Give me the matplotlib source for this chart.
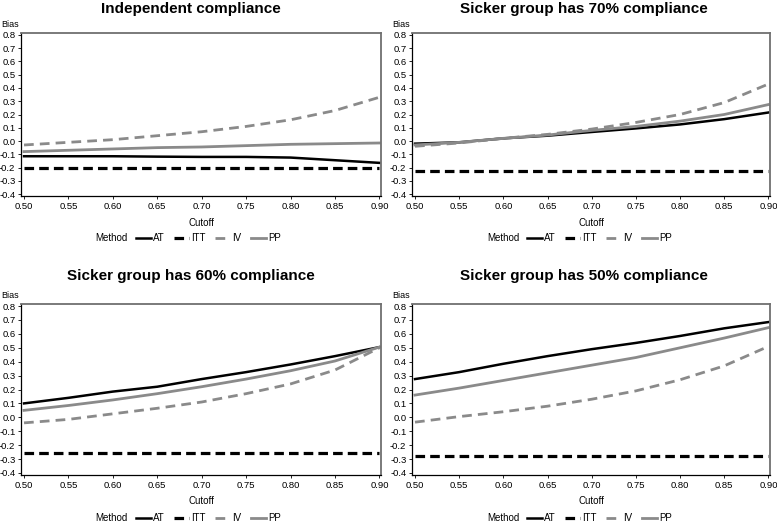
import matplotlib
matplotlib.use('Agg')
import matplotlib.pyplot as plt
from matplotlib.lines import Line2D

plt.rcParams['font.family'] = ['Liberation Sans', 'DejaVu Sans']
plt.rcParams['axes.unicode_minus'] = False

# cutoff grid shared by all panels
cutoff = [0.50, 0.55, 0.60, 0.65, 0.70, 0.75, 0.80, 0.85, 0.90]
xticks = [0.50, 0.55, 0.60, 0.65, 0.70, 0.75, 0.80, 0.85, 0.90]
yticks = [-0.4, -0.3, -0.2, -0.1, 0.0, 0.1, 0.2, 0.3, 0.4, 0.5, 0.6, 0.7, 0.8]

titles = ['Independent compliance',
          'Sicker group has 70% compliance',
          'Sicker group has 60% compliance',
          'Sicker group has 50% compliance']

# bias per method, one list per panel (same order as titles)
at_bias = [
    [-0.115, -0.115, -0.115, -0.118, -0.12, -0.12, -0.125, -0.145, -0.165],
    [-0.02, -0.01, 0.02, 0.04, 0.068, 0.095, 0.125, 0.165, 0.215],
    [0.10, 0.14, 0.185, 0.22, 0.275, 0.325, 0.38, 0.44, 0.505],
    [0.275, 0.325, 0.385, 0.44, 0.49, 0.535, 0.585, 0.64, 0.685],
]
itt_bias = [
    [-0.20] * 9,
    [-0.225] * 9,
    [-0.255] * 9,
    [-0.275] * 9,
]
iv_bias = [
    [-0.03, -0.01, 0.01, 0.04, 0.07, 0.11, 0.16, 0.23, 0.33],
    [-0.04, -0.015, 0.02, 0.05, 0.09, 0.14, 0.20, 0.29, 0.43],
    [-0.04, -0.015, 0.025, 0.065, 0.11, 0.17, 0.24, 0.34, 0.50],
    [-0.035, 0.005, 0.04, 0.08, 0.13, 0.19, 0.27, 0.37, 0.51],
]
pp_bias = [
    [-0.08, -0.07, -0.06, -0.05, -0.045, -0.035, -0.025, -0.02, -0.015],
    [-0.03, -0.01, 0.02, 0.045, 0.08, 0.11, 0.15, 0.20, 0.275],
    [0.05, 0.085, 0.125, 0.17, 0.22, 0.275, 0.335, 0.405, 0.505],
    [0.16, 0.21, 0.265, 0.32, 0.375, 0.43, 0.50, 0.57, 0.645],
]

W, H = 777, 522
fig = plt.figure(figsize=(W / 100, H / 100), dpi=100)

grey = '#8a8a8a'
styles = {
    'AT': dict(color='black', lw=1.8, ls='-'),
    'ITT': dict(color='black', lw=2.3, ls=(0, (3.0, 1.6))),
    'IV': dict(color=grey, lw=2.0, ls=(0, (3.5, 2.2))),
    'PP': dict(color=grey, lw=2.0, ls='-'),
}

# pixel boxes: left, top, right, bottom
boxes = [(21, 33, 381, 196), (412, 33, 770, 196),
         (21, 304, 381, 475), (412, 304, 770, 475)]
title_pos = [(191, 9), (584, 9), (191, 276), (584, 276)]

for i, (l, t, r, b) in enumerate(boxes):
    ax = fig.add_axes([l / W, 1 - b / H, (r - l) / W, (b - t) / H])
    series = {'AT': at_bias[i], 'ITT': itt_bias[i], 'IV': iv_bias[i], 'PP': pp_bias[i]}
    for name, vals in series.items():
        ax.plot(cutoff, vals, label=name, **styles[name])
    ax.set_xlim(0.4966, 0.9018)
    ax.set_ylim(-0.415, 0.815)
    ax.set_xticks(xticks)
    ax.set_xticklabels(['%.2f' % v for v in xticks])
    ax.set_yticks(yticks)
    ax.set_yticklabels(['%.1f' % v for v in yticks])
    ax.tick_params(labelsize=6.8, length=2.5, width=0.6, pad=1.5)
    for s in ['left', 'bottom']:
        ax.spines[s].set_color('black')
        ax.spines[s].set_linewidth(0.9)
    for s in ['top', 'right']:
        ax.spines[s].set_color('#707070')
        ax.spines[s].set_linewidth(1.3)
    ax.set_xlabel('Cutoff', fontsize=7, labelpad=5)
    ax.text(-0.006, 1.05, 'Bias', transform=ax.transAxes, ha='right',
            va='center', fontsize=6.5)
    fig.text(title_pos[i][0] / W, 1 - title_pos[i][1] / H, titles[i],
             ha='center', va='center', fontsize=11, fontweight='bold')

    # legend row below the axis
    hpx = b - t
    wpx = r - l
    ly = -(42 + (0 if i < 2 else 1)) / hpx
    handles = [Line2D([], [], **styles[n]) for n in ['AT', 'ITT', 'IV', 'PP']]
    ax.text((128 - 21) / wpx, ly, 'Method', transform=ax.transAxes,
            ha='right', va='center', fontsize=7)
    ax.legend(handles, ['AT', 'ITT', 'IV', 'PP'], loc='center left',
              bbox_to_anchor=((136 - 21) / wpx, ly), ncol=4, frameon=False,
              fontsize=7, handlelength=1.5, handletextpad=0.25,
              columnspacing=1.0, borderpad=0, borderaxespad=0)

fig.savefig('out.png', dpi=100)
